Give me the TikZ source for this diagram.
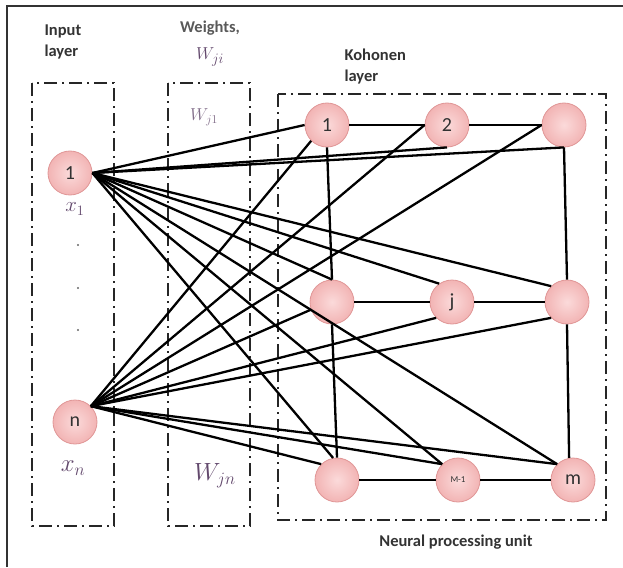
\documentclass[tikz,border=0pt]{standalone}
\usepackage{fontspec}
\setmainfont{Carlito}
\definecolor{nodein}{RGB}{251,218,218}
\definecolor{nodeout}{RGB}{242,180,180}
\definecolor{nodeborder}{RGB}{224,150,150}
\definecolor{textgray}{RGB}{50,50,50}
\definecolor{mathpurple}{RGB}{98,72,108}
\begin{document}
\begin{tikzpicture}[x=1pt,y=-1pt,
  neuron/.style={circle, draw=nodeborder, inner color=nodein, outer color=nodeout, line width=0.8pt, minimum size=44pt, inner sep=0pt, font=\fontsize{20}{20}\selectfont, text=textgray},
  conn/.style={line width=2.3pt, black},
  layerbox/.style={draw=black!85, line width=2pt, dash pattern=on 13pt off 5pt on 2pt off 5pt},
  lbl/.style={font=\bfseries\fontsize{16.5}{21}\selectfont, text=black!80, align=left},
  mlbl/.style={text=mathpurple, inner sep=0pt},
  dotmark/.style={circle, fill=black!60, inner sep=0pt, minimum size=2.2pt}]

\useasboundingbox (0,0) rectangle (623,567);
\draw[line width=1.4pt, black!80] (7,567) -- (7,6) -- (623,6);

% layer boxes
\draw[layerbox] (32,83) rectangle (114,526);
\draw[layerbox] (168,83) rectangle (250,526);
\draw[layerbox] (278,94) rectangle (606,520);

% labels
\node[lbl, anchor=north west] (tin) at (41,21) {Input\\layer};
\node[lbl, text=black!65] (tw) at (210,28) {Weights,};
\node[mlbl] (wji) at (210,57) {\fontsize{19}{19}\selectfont $W_{ji}$};
\node[lbl, anchor=north west] (tk) at (341,45) {Kohonen\\layer};
\node[lbl] (tnpu) at (456,542) {Neural processing unit};
\node[mlbl, text=mathpurple!80] (wj1) at (204,117) {\fontsize{17}{17}\selectfont $W_{j1}$};
\node[mlbl] (wjn) at (215,476) {\fontsize{23}{23}\selectfont $W_{jn}$};
\node[mlbl] (x1) at (75,209) {\fontsize{20}{20}\selectfont $x_1$};
\node[mlbl] (xn) at (73,468) {\fontsize{23}{23}\selectfont $x_n$};
\node[dotmark] (d1) at (78,245) {};
\node[dotmark] (d2) at (78,288) {};
\node[dotmark] (d3) at (78,330) {};

% neurons
\node[neuron] (a1) at (70,173) {1};
\node[neuron] (an) at (75,422) {n};
\node[neuron] (k1) at (327,125) {1};
\node[neuron] (k2) at (447,125) {2};
\node[neuron] (k3) at (564,125) {};
\node[neuron] (k4) at (332,302) {};
\node[neuron] (k5) at (452,302) {j};
\node[neuron] (k6) at (567,302) {};
\node[neuron] (k7) at (337,480) {};
\node[neuron] (k8) at (458,480) {\fontsize{9}{9}\selectfont M-1};
\node[neuron] (k9) at (573,480) {m};

% input 1 to Kohonen layer
\draw[conn] (a1.east) -- (k1.west);
\draw[conn] (a1.east) -- (k2.south);
\draw[conn] (a1.east) -- (k3.south);
\draw[conn] (a1.east) -- (k4.north);
\draw[conn] (a1.east) -- (k5.125);
\draw[conn] (a1.east) -- (k6.north west);
\draw[conn] (a1.east) -- (k7.100);
\draw[conn] (a1.east) -- (k8.north west);
\draw[conn] (a1.east) -- (k9.north west);

% input n to Kohonen layer
\draw[conn] (an.north east) -- (k1.south west);
\draw[conn] (an.north east) -- (k2.west);
\draw[conn] (an.north east) -- (k3.west);
\draw[conn] (an.north east) -- (k4.200);
\draw[conn] (an.north east) -- (k5.south west);
\draw[conn] (an.north east) -- (k6.south west);
\draw[conn] (an.north east) -- (k7.north west);
\draw[conn] (an.north east) -- (k8.north west);
\draw[conn] (an.north east) -- (k9.north west);

% lateral connections
\draw[conn] (k1) -- (k2);
\draw[conn] (k2) -- (k3);
\draw[conn] (k4) -- (k5);
\draw[conn] (k5) -- (k6);
\draw[conn] (k7) -- (k8);
\draw[conn] (k8) -- (k9);
\draw[conn] (k1.south) -- (k4.north);
\draw[conn] (k4.south) -- (k7.north);
\draw[conn] (k3.south) -- (k6.north);
\draw[conn] (k6.south) -- (k9.100);
\end{tikzpicture}
\end{document}
